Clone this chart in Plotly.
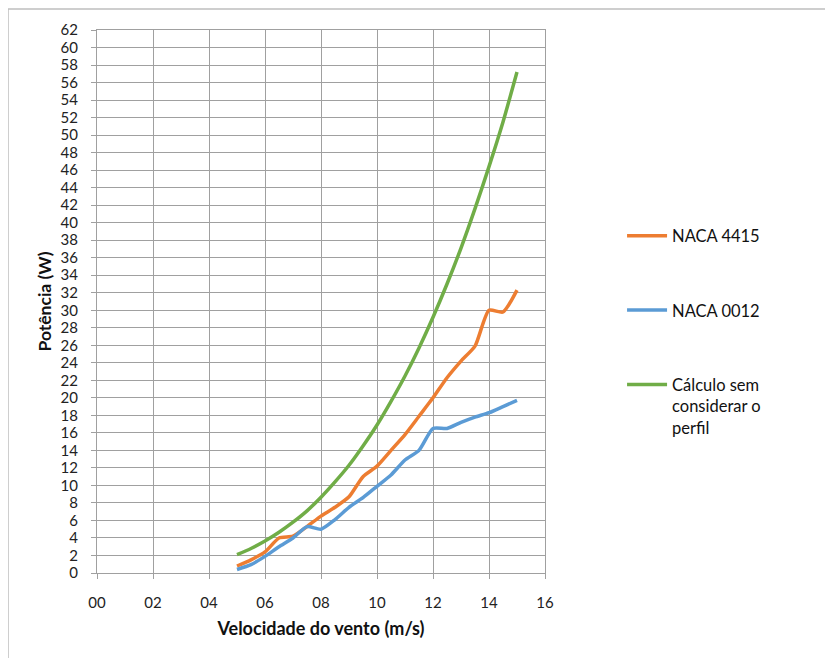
import plotly.graph_objects as go

velocidade = [5, 5.5, 6, 6.5, 7, 7.5, 8, 8.5, 9, 9.5, 10, 10.5, 11, 11.5, 12, 12.5, 13, 13.5, 14, 14.5, 15]
naca_4415 = [0.8, 1.5, 2.4, 4.0, 4.2, 5.3, 6.5, 7.5, 8.7, 11.0, 12.2, 14.0, 15.8, 17.9, 20.0, 22.3, 24.2, 25.9, 30.0, 29.8, 32.3]
naca_0012 = [0.4, 0.95, 1.9, 3.0, 4.0, 5.3, 5.0, 6.1, 7.5, 8.6, 9.9, 11.2, 12.9, 14.0, 16.5, 16.5, 17.2, 17.8, 18.3, 19.0, 19.7]
calculo = [2.1, 2.8, 3.65, 4.65, 5.8, 7.1, 8.65, 10.4, 12.3, 14.5, 16.9, 19.6, 22.5, 25.7, 29.2, 33.0, 37.1, 41.6, 46.4, 51.5, 57.2]

series_names = ["NACA 4415", "NACA 0012", "Cálculo sem<br>considerar o<br>perfil"]
series_colors = ["#ED7D31", "#5B9BD5", "#70AD47"]
x_ticks = list(range(0, 17, 2))
x_tick_labels = [f"{v:02d}" for v in x_ticks]
y_ticks = list(range(0, 63, 2))

FONT = "Lato, 'Open Sans', sans-serif"

fig = go.Figure()
for name, vals, col, grp in zip(series_names, [naca_4415, naca_0012, calculo], series_colors, ["a", "b", "c"]):
    fig.add_trace(go.Scatter(
        x=velocidade, y=vals, name=name, mode="lines",
        line=dict(color=col, width=3.5, shape="spline", smoothing=0.6),
        legendgroup=grp,
    ))

fig.update_layout(
    width=833, height=658,
    margin=dict(l=89, r=296, t=22, b=93),
    paper_bgcolor="white", plot_bgcolor="white",
    font=dict(family=FONT, size=15, color="#222222"),
    showlegend=True,
    legend=dict(
        x=1.172, y=0.653, xanchor="left", yanchor="top",
        tracegroupgap=50, valign="top",
        font=dict(family=FONT, size=16.5, color="#111111"),
        itemwidth=40,
    ),
    xaxis=dict(
        range=[0, 16], tickvals=x_ticks, ticktext=x_tick_labels,
        showgrid=True, gridcolor="#a0a0a0", gridwidth=1,
        showline=True, linecolor="#a0a0a0", linewidth=1,
        ticks="outside", ticklen=5, tickcolor="#a0a0a0",
        ticklabelstandoff=11,
        zeroline=False, mirror=True,
        title=dict(text="<b>Velocidade do vento (m/s)</b>", font=dict(family=FONT, size=18, color="#111111"), standoff=12),
    ),
    yaxis=dict(
        range=[0, 62], tickvals=y_ticks,
        showgrid=True, gridcolor="#a0a0a0", gridwidth=1,
        showline=True, linecolor="#a0a0a0", linewidth=1,
        ticks="outside", ticklen=5, tickcolor="#a0a0a0",
        ticklabelstandoff=10,
        zeroline=False, mirror=True,
        title=dict(text="<b>Potência (W)</b>", font=dict(family=FONT, size=17.5, color="#111111"), standoff=4),
    ),
    shapes=[dict(
        type="rect", xref="paper", yref="paper",
        x0=(8 - 97) / 448, x1=(850 - 97) / 448,
        y0=(573 - 670) / 543, y1=(573 - 9) / 543,
        line=dict(color="#bfbfbf", width=1.5), fillcolor="rgba(0,0,0,0)", layer="below",
    )],
)

fig.write_html("out.html")
